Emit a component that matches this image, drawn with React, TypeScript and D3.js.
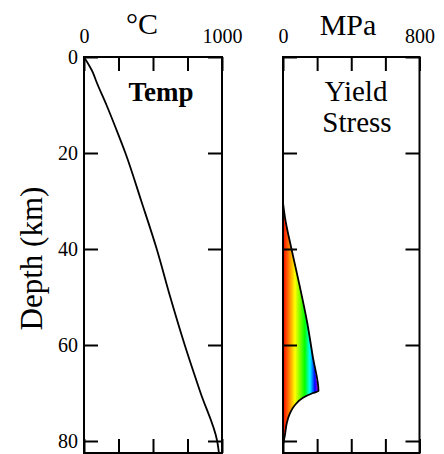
import { useEffect, useRef } from 'react'
import * as d3 from 'd3'

// temperature profile (depth km -> °C)
const tempDepth = [0, 3.4, 5, 10, 15, 20, 30, 40, 50, 60, 70, 80, 82.5]
const tempValue = [0, 67, 88, 163, 233, 300, 415, 527, 625, 730, 845, 965, 978]

// yield stress envelope (depth km -> MPa)
const yieldDepth = [30.4, 33.5, 40.2, 47.9, 54.8, 62.5, 69.6, 70.0, 71.0, 72.5, 74.2, 76.3, 78.6, 80.8]
const yieldValue = [0, 12, 51, 99, 139, 175, 208, 176, 117, 70, 41, 22, 12, 0]

// rainbow fill, keyed by stress
const stopStress = [0, 35, 70, 128, 158, 187, 212]
const stopColors = ['#ff0000', '#ff8000', '#ffff00', '#00ff00', '#00ffff', '#0000ff', '#ff00ff']

const depthTicks = [0, 20, 40, 60, 80]
const tempTicks = [0, 250, 500, 750, 1000]
const tempLabels = ['0', '', '', '', '1000']
const stressTicks = [0, 200, 400, 600, 800]
const stressLabels = ['0', '', '', '', '800']

const FONT = '"Liberation Serif", "Times New Roman", serif'

export default function App() {
  const svgRef = useRef<SVGSVGElement>(null)

  useEffect(() => {
    if (!svgRef.current) return
    const width = 444
    const height = 454
    const top = 57
    const bottom = 453

    const svg = d3.select(svgRef.current)
    svg.selectAll('*').remove()
    svg.attr('width', width).attr('height', height)

    const y = d3.scaleLinear().domain([0, 82.5]).range([top, bottom])
    const xT = d3.scaleLinear().domain([0, 1000]).range([84, 222])
    const xS = d3.scaleLinear().domain([0, 800]).range([283, 419.5])

    const panel = (
      x: d3.ScaleLinear<number, number>,
      ticks: number[],
      labels: string[],
      showDepth: boolean
    ) => {
      const [x0, x1] = x.range()
      const g = svg.append('g')

      const styleAxis = (sel: d3.Selection<SVGGElement, unknown, null, undefined>) => {
        sel.attr('font-family', FONT).attr('font-size', 20)
        sel.select('.domain').remove()
        sel.selectAll('line').attr('stroke', '#000').attr('stroke-width', 2)
        sel.selectAll('text').attr('fill', '#000')
      }

      g.append('g')
        .attr('transform', `translate(0,${top})`)
        .call(d3.axisTop(x).tickValues(ticks).tickSize(-14).tickPadding(14)
          .tickFormat((_, i) => labels[i]))
        .call(styleAxis)

      g.append('g')
        .attr('transform', `translate(0,${bottom})`)
        .call(d3.axisBottom(x).tickValues(ticks).tickSize(-14).tickFormat(() => ''))
        .call(styleAxis)

      g.append('g')
        .attr('transform', `translate(${x0},0)`)
        .call(d3.axisLeft(y).tickValues(depthTicks).tickSize(-14).tickPadding(6)
          .tickFormat(d => (showDepth ? String(d) : '')))
        .call(styleAxis)

      g.append('g')
        .attr('transform', `translate(${x1},0)`)
        .call(d3.axisRight(y).tickValues(depthTicks).tickSize(-14).tickFormat(() => ''))
        .call(styleAxis)

      g.append('rect')
        .attr('x', x0).attr('y', top)
        .attr('width', x1 - x0).attr('height', bottom - top)
        .attr('fill', 'none').attr('stroke', '#000').attr('stroke-width', 2)
    }

    // yield stress fill
    const defs = svg.append('defs')
    const grad = defs.append('linearGradient')
      .attr('id', 'rainbow')
      .attr('gradientUnits', 'userSpaceOnUse')
      .attr('x1', xS(0)).attr('x2', xS(stopStress[stopStress.length - 1]))
      .attr('y1', 0).attr('y2', 0)
    stopStress.forEach((s, i) => {
      grad.append('stop')
        .attr('offset', s / stopStress[stopStress.length - 1])
        .attr('stop-color', stopColors[i])
    })

    const yieldData = yieldDepth.map((d, i) => ({ d, v: yieldValue[i] }))
    const area = d3.area<{ d: number; v: number }>()
      .y(p => y(p.d))
      .x0(xS(0))
      .x1(p => xS(p.v))
    svg.append('path')
      .attr('d', area(yieldData))
      .attr('fill', 'url(#rainbow)')
    const yieldLine = d3.line<{ d: number; v: number }>()
      .x(p => xS(p.v))
      .y(p => y(p.d))
      .curve(d3.curveMonotoneY)
    svg.append('path')
      .attr('d', yieldLine(yieldData))
      .attr('fill', 'none').attr('stroke', '#000').attr('stroke-width', 1.8)

    // temperature curve
    const tempData = tempDepth.map((d, i) => ({ d, v: tempValue[i] }))
    const tempLine = d3.line<{ d: number; v: number }>()
      .x(p => xT(p.v))
      .y(p => y(p.d))
      .curve(d3.curveMonotoneY)
    svg.append('path')
      .attr('d', tempLine(tempData))
      .attr('fill', 'none').attr('stroke', '#000').attr('stroke-width', 1.8)

    panel(xT, tempTicks, tempLabels, true)
    panel(xS, stressTicks, stressLabels, false)

    // titles
    const txt = (x: number, yy: number, s: string, size: number, weight = 'normal') =>
      svg.append('text')
        .attr('x', x).attr('y', yy)
        .attr('text-anchor', 'middle')
        .attr('font-family', FONT)
        .attr('font-size', size)
        .attr('font-weight', weight)
        .attr('fill', '#000')
        .text(s)

    txt(142, 34, '°C', 30)
    txt(348, 35, 'MPa', 30)
    txt(161, 101, 'Temp', 27, 'bold')
    txt(356, 101, 'Yield', 29)
    txt(357, 132, 'Stress', 29)

    svg.append('text')
      .attr('transform', `translate(42,${(187 + 330) / 2}) rotate(-90)`)
      .attr('text-anchor', 'middle')
      .attr('font-family', FONT)
      .attr('font-size', 31)
      .attr('fill', '#000')
      .text('Depth (km)')
  }, [])

  return (
    <svg ref={svgRef} style={{ position: 'absolute', left: 0, top: 0, background: '#fff' }}></svg>
  )
}
